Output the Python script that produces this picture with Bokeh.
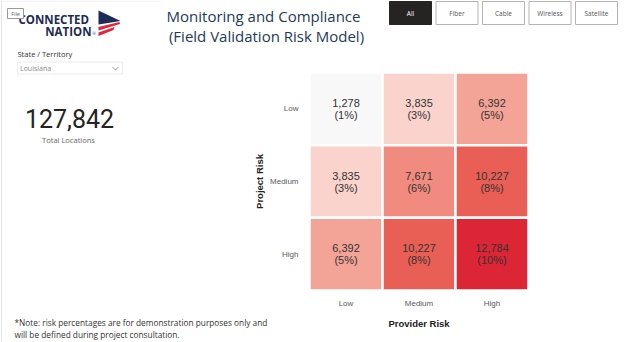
from bokeh.plotting import figure
from bokeh.models import ColumnDataSource, Range1d, LinearColorMapper
from bokeh.transform import transform
from bokeh.embed import file_html
from bokeh.resources import INLINE
from bokeh.core.properties import value

# ---------------- data ----------------
provider_risk = ["Low", "Medium", "High"]          # x categories
project_risk = ["Low", "Medium", "High"]           # y categories (Low on top)
# rows = project risk, columns = provider risk
location_counts = [
    [1278, 3835, 6392],
    [3835, 7671, 10227],
    [6392, 10227, 12784],
]
risk_percents = [
    [1, 3, 5],
    [3, 6, 8],
    [5, 8, 10],
]
total_locations = 127842
state_territory = "Louisiana"
filter_buttons = ["All", "Fiber", "Cable", "Wireless", "Satellite"]
title_lines = ["Monitoring and Compliance", "(Field Validation Risk Model)"]
note_lines = ["*Note: risk percentages are for demonstration purposes only and",
              "will be defined during project consultation."]

# ---------------- table ----------------
xs, ys, cnt, cnt_txt, pct_txt = [], [], [], [], []
for r, proj in enumerate(project_risk):
    for c, prov in enumerate(provider_risk):
        xs.append(provider_risk.index(prov))
        ys.append(project_risk.index(proj))
        cnt.append(location_counts[r][c])
        cnt_txt.append(f"{location_counts[r][c]:,}")
        pct_txt.append(f"({risk_percents[r][c]}%)")
src = ColumnDataSource(dict(x=xs, y=ys, count=cnt, count_txt=cnt_txt, pct_txt=pct_txt))


def lerp(c1, c2, t):
    return tuple(round(a + (b - a) * t) for a, b in zip(c1, c2))


stops = [(248, 248, 248), (249, 206, 198), (243, 150, 137), (235, 103, 91), (220, 37, 53)]
palette = []
for i in range(256):
    t = i / 255 * (len(stops) - 1)
    k = min(int(t), len(stops) - 2)
    palette.append("#%02x%02x%02x" % lerp(stops[k], stops[k + 1], t - k))
all_counts = [v for row in location_counts for v in row]
mapper = LinearColorMapper(palette=palette, low=min(all_counts), high=max(all_counts))

# ---------------- layout geometry (pixels) ----------------
W, H = 624, 342
HM_L, HM_R, HM_T, HM_B = 309, 528, 72, 290
ux = (HM_R - HM_L) / len(provider_risk)
uy = (HM_B - HM_T) / len(project_risk)

p = figure(width=W, height=H, x_range=Range1d(0, W), y_range=Range1d(H, 0),
           output_backend="svg", toolbar_location=None,
           x_axis_location=None, y_axis_location=None,
           min_border=0, min_border_left=0, min_border_right=0,
           min_border_top=0, min_border_bottom=0)
p.outline_line_color = None
p.grid.grid_line_color = None
p.background_fill_color = "white"
p.border_fill_color = "white"

# heatmap scale: category index -> pixels
p.extra_x_ranges = {"hm": Range1d(-0.5 - HM_L / ux, -0.5 + (W - HM_L) / ux)}
p.extra_y_ranges = {"hm": Range1d(-0.5 + (H - HM_T) / uy, -0.5 - HM_T / uy)}

p.rect(x="x", y="y", width=1, height=1, source=src, x_range_name="hm", y_range_name="hm",
       fill_color=transform("count", mapper), line_color="white", line_width=2.5)
p.text(x="x", y="y", text="count_txt", source=src, y_offset=-6,
       x_range_name="hm", y_range_name="hm",
       text_align="center", text_baseline="middle", text_font_size="11px",
       text_color="#333333", text_font=value("Liberation Sans"))
p.text(x="x", y="y", text="pct_txt", source=src, y_offset=6,
       x_range_name="hm", y_range_name="hm",
       text_align="center", text_baseline="middle", text_font_size="11px",
       text_color="#333333", text_font=value("Liberation Sans"))

# axis tick labels (category positions via heatmap scale)
p.text(x=list(range(len(provider_risk))), y=[303] * len(provider_risk), text=provider_risk,
       x_range_name="hm", text_align="center", text_baseline="middle",
       text_font_size="8px", text_color="#5a5a5a", text_font=value("Liberation Sans"))
p.text(x=[298] * len(project_risk), y=list(range(len(project_risk))), text=project_risk,
       y_range_name="hm", text_align="right", text_baseline="middle",
       text_font_size="8px", text_color="#5a5a5a", text_font=value("Liberation Sans"))


def txt(x, y, text, size, color, font="Open Sans", align="left", style="normal",
        angle=0.0):
    p.text(x=[x], y=[y], text=[text], text_font_size=size, text_color=color,
           text_font=value(font), text_align=align, text_baseline="middle",
           text_font_style=style, angle=angle)


def box(l, t, r, b, fill, line=None, lw=1):
    p.quad(left=[l], right=[r], top=[t], bottom=[b], fill_color=fill,
           line_color=line, line_width=lw)


def poly(pts, fill):
    p.patch(x=[a for a, _ in pts], y=[b for _, b in pts], fill_color=fill, line_color=None)


# axis titles
txt((HM_L + HM_R) / 2, 323, "Provider Risk", "9.5px", "#222222", font="Liberation Sans",
    align="center", style="bold")
txt(259, (HM_T + HM_B) / 2, "Project Risk", "9.5px", "#222222", font="Liberation Sans",
    align="center", style="bold", angle=1.5708)

# left panel border
box(0.5, 0, 1.5, H, "#e4e4e4")
box(0, 0, 160, 1, "#eeeeee")

# logo
txt(18, 19, "CONNECTED", "11.5px", "#1c2b57", style="bold")
txt(91, 30.5, "NATION", "11.5px", "#1c2b57", align="right", style="bold")
txt(92, 33, "®", "4px", "#1c2b57")
poly([(98, 10), (120, 20.5), (98, 24)], "#1c2b57")
poly([(98, 26.5), (119, 21.5), (119.5, 23.5), (98, 30)], "#e0263a")
poly([(98, 32), (114, 26.5), (113, 29.5), (98, 35.5)], "#e0263a")
# "File" tag
box(7, 8, 23, 18, "white", "#9a9a9a", 1)
txt(15, 13, "File", "5.5px", "#666666", align="center")

# state selector
txt(17, 53.5, "State / Territory", "7.5px", "#333333")
box(17, 61.5, 122, 73.5, "white", "#ececec", 1)
txt(19.5, 67.5, state_territory, "7px", "#8a8a8a")
poly([(112, 66), (115, 69), (118, 66), (118, 66.9), (115, 69.9), (112, 66.9)], "#9a9a9a")

# KPI
txt(69, 118, f"{total_locations:,}", "25px", "#252423", font="Roboto", align="center")
txt(68, 139, "Total Locations", "7.5px", "#666666", align="center")

# title
txt(263, 15, title_lines[0], "15px", "#243a5a", align="center")
txt(266, 35, title_lines[1], "15px", "#243a5a", align="center")

# filter buttons
for i, name in enumerate(filter_buttons):
    l = 389 + i * 46.5
    selected = i == 0
    box(l, 1, l + 42, 24, "#252423" if selected else "white",
        "#252423" if selected else "#b4b4b4", 1)
    txt(l + 21, 12.5, name, "6.5px", "white" if selected else "#555555", align="center")

# note
txt(14, 322, note_lines[0], "8.3px", "#333333")
txt(14, 333.5, note_lines[1], "8.3px", "#333333")

open("out.html", "w").write(file_html(p, INLINE))
